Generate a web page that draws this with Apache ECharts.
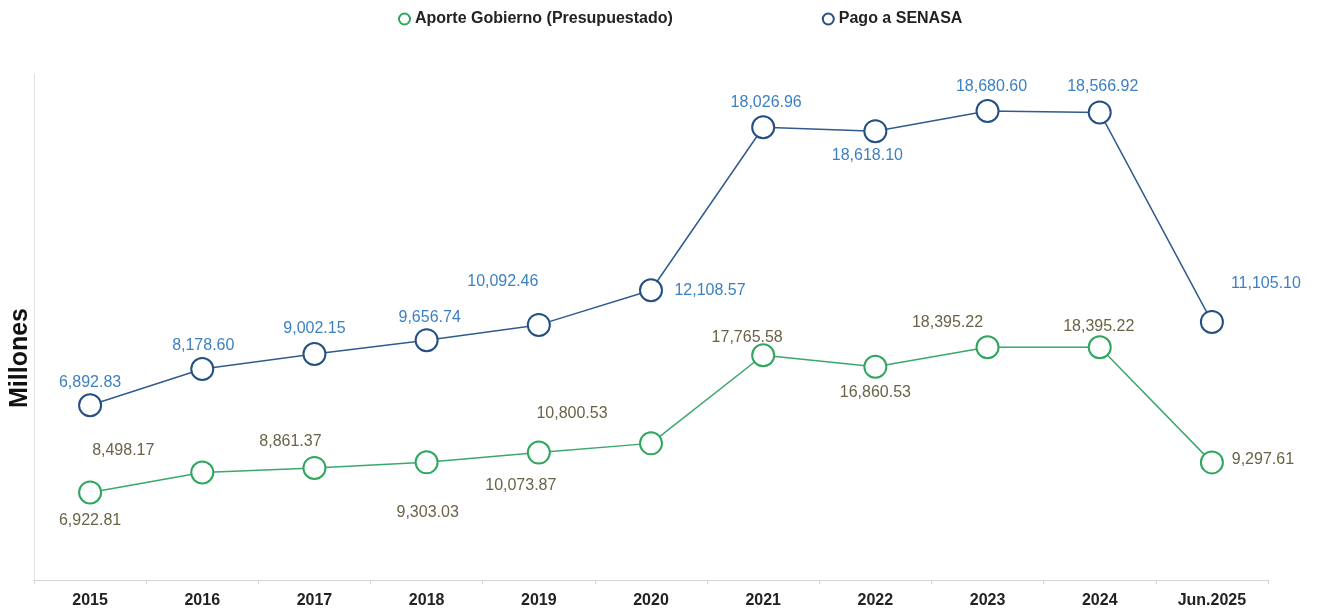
<!DOCTYPE html>
<html>
<head>
<meta charset="utf-8">
<script src="https://cdn.jsdelivr.net/npm/echarts@6/dist/echarts.min.js"></script>
<style>
html,body{margin:0;padding:0;background:#fff;}
#chart{width:1319px;height:611px;}
</style>
</head>
<body>
<div id="chart"></div>
<script>
// ---- data ----
const categories = ['2015','2016','2017','2018','2019','2020','2021','2022','2023','2024','Jun.2025'];
const aporteName = 'Aporte Gobierno (Presupuestado)';
const pagoName = 'Pago a SENASA';
const aporteValues = [6922.81, 8498.17, 8861.37, 9303.03, 10073.87, 10800.53, 17765.58, 16860.53, 18395.22, 18395.22, 9297.61];
const pagoValues = [6892.83, 8178.60, 9002.15, 9656.74, 10092.46, 12108.57, 18026.96, 18618.10, 18680.60, 18566.92, 11105.10];
const yAxisTitle = 'Millones';

// ---- label layout (offsets from marker centre, px) ----
const aporteLabelOffsets = [[0,28],[-79,-22],[-24,-26],[1,50],[-18,33],[-79,-30],[-16,-18],[0,26],[-40,-25],[-1,-21],[51,-3]];
const pagoLabelOffsets = [[0,-23],[1,-23],[0,-25],[3,-23],[-36,-43],[59,0],[3,-25],[-8,24],[4,-24],[3,-26],[54,-38]];

function fmt(v){
  const parts = v.toFixed(2).split('.');
  parts[0] = parts[0].replace(/\B(?=(\d{3})+(?!\d))/g, ',');
  return parts.join('.');
}

const FONT = '"Liberation Sans", Arial, sans-serif';
const greenLine = '#3aa86c';
const greenMarker = '#2fa65e';
const greenLabel = '#6a6346';
const blueLine = '#2f5b8e';
const blueMarker = '#244f82';
const blueLabel = '#3d80c2';

function buildData(values, offsets){
  return values.map((v,i)=>({
    value: v,
    label: { offset: offsets[i] }
  }));
}

const chart = echarts.init(document.getElementById('chart'), null, {renderer:'canvas'});
chart.setOption({
  backgroundColor: '#ffffff',
  animation: false,
  legend: {
    top: 6,
    left: 393,
    itemGap: 149,
    itemWidth: 11,
    itemHeight: 11,
    icon: 'circle',
    textStyle: { fontFamily: FONT, fontSize: 16, fontWeight: 'bold', color: '#222' },
    data: [
      { name: aporteName, itemStyle: { color: '#fff', borderColor: greenMarker, borderWidth: 2 } },
      { name: pagoName, itemStyle: { color: '#fff', borderColor: blueMarker, borderWidth: 2 } }
    ]
  },
  grid: { left: 34, right: 51, top: 74, bottom: 31, containLabel: false },
  xAxis: {
    type: 'category',
    data: categories,
    boundaryGap: true,
    axisLine: { show: true, lineStyle: { color: '#d4d4d4', width: 1 } },
    axisTick: { show: true, alignWithLabel: false, length: 4, lineStyle: { color: '#d4d4d4' } },
    axisLabel: { margin: 13, fontFamily: FONT, fontSize: 16, fontWeight: 'bold', color: '#222' },
    splitLine: { show: false }
  },
  yAxis: {
    type: 'value',
    min: 0,
    max: 40000,
    name: yAxisTitle,
    nameLocation: 'middle',
    nameGap: 1,
    nameTextStyle: { fontFamily: FONT, fontSize: 25, fontWeight: 'bold', color: '#111', padding: [0, 62, 0, 0] },
    axisLine: { show: true, lineStyle: { color: '#e2e2e2', width: 1 } },
    axisTick: { show: false },
    axisLabel: { show: false },
    splitLine: { show: false }
  },
  series: [
    {
      name: aporteName,
      type: 'line',
      stack: 'total',
      data: buildData(aporteValues, aporteLabelOffsets),
      symbol: 'circle',
      symbolSize: 22,
      showAllSymbol: true,
      lineStyle: { color: greenLine, width: 1.5 },
      itemStyle: { color: '#fff', borderColor: greenMarker, borderWidth: 2 },
      label: {
        show: true,
        position: 'inside',
        formatter: p => fmt(p.value),
        fontFamily: FONT,
        fontSize: 16,
        color: greenLabel
      },
      z: 2
    },
    {
      name: pagoName,
      type: 'line',
      stack: 'total',
      data: buildData(pagoValues, pagoLabelOffsets),
      symbol: 'circle',
      symbolSize: 22,
      showAllSymbol: true,
      lineStyle: { color: blueLine, width: 1.5 },
      itemStyle: { color: '#fff', borderColor: blueMarker, borderWidth: 2 },
      label: {
        show: true,
        position: 'inside',
        formatter: p => fmt(p.value),
        fontFamily: FONT,
        fontSize: 16,
        color: blueLabel
      },
      z: 3
    }
  ]
});
</script>
</body>
</html>
